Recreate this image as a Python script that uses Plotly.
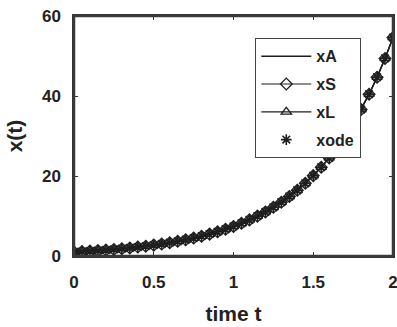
import plotly.graph_objects as go

t = [0.00, 0.05, 0.10, 0.15, 0.20, 0.25, 0.30, 0.35, 0.40, 0.45,
     0.50, 0.55, 0.60, 0.65, 0.70, 0.75, 0.80, 0.85, 0.90, 0.95,
     1.00, 1.05, 1.10, 1.15, 1.20, 1.25, 1.30, 1.35, 1.40, 1.45,
     1.50, 1.55, 1.60, 1.65, 1.70, 1.75, 1.80, 1.85, 1.90, 1.95, 2.00]
x_vals = [1.00, 1.11, 1.22, 1.35, 1.49, 1.65, 1.82, 2.01, 2.23, 2.46,
          2.72, 3.00, 3.32, 3.67, 4.06, 4.48, 4.95, 5.47, 6.05, 6.69,
          7.39, 8.17, 9.03, 9.97, 11.02, 12.18, 13.46, 14.88, 16.44, 18.17,
          20.09, 22.20, 24.53, 27.11, 29.96, 33.12, 36.60, 40.45, 44.70, 49.40, 54.60]
xA = x_vals
xS = x_vals
xL = x_vals
xode = x_vals
x_ticks = [0, 0.5, 1, 1.5, 2]
x_tick_text = ["0", "0.5", "1", "1.5", "2"]
y_ticks = [0, 20, 40, 60]
y_tick_text = ["0", "20", "40", "60"]

col = "#1e1e1e"
FONT = "Liberation Sans, Arial"
fig = go.Figure()
fig.add_trace(go.Scatter(x=t, y=xA, mode="lines", name="xA", legendgroup="a",
                         line=dict(color=col, width=1.5)))
fig.add_trace(go.Scatter(x=t, y=xS, mode="lines+markers", name="xS", legendgroup="s",
                         line=dict(color=col, width=1.2),
                         marker=dict(symbol="diamond-open", size=9, color=col, line=dict(width=1.3, color=col))))
fig.add_trace(go.Scatter(x=t, y=xL, mode="lines+markers", name="xL", legendgroup="l",
                         line=dict(color=col, width=1.2),
                         marker=dict(symbol="triangle-up-open", size=9, color=col, line=dict(width=1.3, color=col))))
fig.add_trace(go.Scatter(x=t, y=xode, mode="markers", name="xode", legendgroup="o",
                         marker=dict(symbol="asterisk-open", size=9, color=col, line=dict(width=1.6, color=col))))

axis_common = dict(showline=True, linecolor="#333333", linewidth=1.5, mirror="allticks",
                   ticks="inside", ticklen=4, tickcolor="#333333", showgrid=False, zeroline=False,
                   ticklabeloverflow="allow", automargin=False,
                   tickfont=dict(family=FONT, size=17, color="#222222", weight="bold"))
fig.update_xaxes(range=[0, 2], tickvals=x_ticks, ticktext=x_tick_text, ticklabelstandoff=10,
                 title=dict(text="time t", font=dict(family=FONT, size=21, color="#222222", weight="bold"), standoff=15),
                 **axis_common)
fig.update_yaxes(range=[0, 60], tickvals=y_ticks, ticktext=y_tick_text, ticklabelstandoff=8,
                 title=dict(text="x(t)", font=dict(family=FONT, size=21, color="#222222", weight="bold"), standoff=14),
                 **axis_common)
fig.add_shape(type="rect", xref="paper", yref="paper", x0=0, x1=1, y0=0, y1=1,
              line=dict(color="#3a3a3a", width=2.5), fillcolor="rgba(0,0,0,0)", layer="above")
fig.update_layout(width=397, height=327, margin=dict(l=74, r=4, t=16, b=71),
                  plot_bgcolor="white", paper_bgcolor="white",
                  legend=dict(x=(255 - 74) / 319, y=(256 - 38) / 240, xanchor="left", yanchor="top",
                              bgcolor="white", bordercolor="#444444", borderwidth=1.3,
                              font=dict(family=FONT, size=16, color="#222222", weight="bold"),
                              tracegroupgap=4, itemwidth=50,
                              entrywidth=64, entrywidthmode="pixels"))
fig.write_html("out.html", config={"displayModeBar": False},
               post_script="document.body.style.margin='0';")
